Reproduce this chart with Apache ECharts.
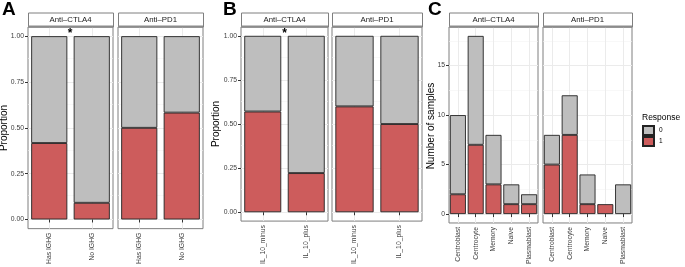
<!DOCTYPE html>
<html>
<head>
<meta charset="utf-8">
<script src="https://cdn.jsdelivr.net/npm/echarts@6/dist/echarts.min.js"></script>
<style>
  html, body { margin: 0; padding: 0; background: #fff; }
  #chart { width: 685px; height: 267px; }
</style>
</head>
<body>
<div id="chart"></div>
<script>
// panel A: IGHG status
const igCats = ['Has IGHG', 'No IGHG'];
const igCtla4Resp = [0.417, 0.091];
const igCtla4Non = [0.583, 0.909];
const igPd1Resp = [0.5, 0.583];
const igPd1Non = [0.5, 0.417];

// panel B: IL-10 status
const il10Cats = ['IL_10_minus', 'IL_10_plus'];
const il10Ctla4Resp = [0.571, 0.222];
const il10Ctla4Non = [0.429, 0.778];
const il10Pd1Resp = [0.6, 0.5];
const il10Pd1Non = [0.4, 0.5];

// panel C: cell type counts
const cellCats = ['Centroblast', 'Centrocyte', 'Memory', 'Naive', 'Plasmablast'];
const cellCtla4Resp = [2, 7, 3, 1, 1];
const cellCtla4Non = [8, 11, 5, 2, 1];
const cellPd1Resp = [5, 8, 1, 1, 0];
const cellPd1Non = [3, 4, 3, 0, 3];

const propTicks = [0, 0.25, 0.5, 0.75, 1];
const propMinor = [0.125, 0.375, 0.625, 0.875];
const countTicks = [0, 5, 10, 15];
const countMinor = [2.5, 7.5, 12.5, 17.5];

const FONT = 'Liberation Sans, Arial, sans-serif';
const RED = '#cd5c5c';
const GREY = '#bebebe';

// facet panels (px boxes)
const panels = [
  { left: 28, width: 85, top: 27, height: 202, cats: igCats, resp: igCtla4Resp, non: igCtla4Non, strip: 'Anti\u2013CTLA4', kind: 'prop', bw: '85%', yLab: true },
  { left: 118, width: 85, top: 27, height: 202, cats: igCats, resp: igPd1Resp, non: igPd1Non, strip: 'Anti\u2013PD1', kind: 'prop', bw: '85%' },
  { left: 241, width: 87, top: 27, height: 195, cats: il10Cats, resp: il10Ctla4Resp, non: il10Ctla4Non, strip: 'Anti\u2013CTLA4', kind: 'prop', bw: '85%', yLab: true },
  { left: 332, width: 90, top: 27, height: 195, cats: il10Cats, resp: il10Pd1Resp, non: il10Pd1Non, strip: 'Anti\u2013PD1', kind: 'prop', bw: '85%' },
  { left: 449, width: 89, top: 27, height: 198, cats: cellCats, resp: cellCtla4Resp, non: cellCtla4Non, strip: 'Anti\u2013CTLA4', kind: 'count', bw: '90%', yLab: true },
  { left: 543, width: 89, top: 27, height: 198, cats: cellCats, resp: cellPd1Resp, non: cellPd1Non, strip: 'Anti\u2013PD1', kind: 'count', bw: '90%' }
];

const grid = [], xAxis = [], yAxis = [], series = [], graphic = [];

panels.forEach((p, i) => {
  const isProp = p.kind === 'prop';
  const ticks = isProp ? propTicks : countTicks;
  const minor = isProp ? propMinor : countMinor;

  grid.push({
    left: p.left, top: p.top, width: p.width, height: p.height,
    show: true, backgroundColor: '#fff', borderColor: '#7f7f7f', borderWidth: 1
  });
  xAxis.push({
    type: 'category', gridIndex: i, data: p.cats,
    axisLine: { show: false },
    axisTick: { show: true, length: 3, alignWithLabel: true, lineStyle: { color: '#333' } },
    axisLabel: { rotate: 90, interval: 0, fontSize: 6.8, color: '#3d3d3d', fontFamily: FONT, margin: 4 },
    splitLine: { show: false }
  });
  yAxis.push({
    type: 'value', gridIndex: i,
    min: isProp ? -0.05 : -0.9,
    max: isProp ? 1.05 : 18.9,
    splitLine: { show: false },
    axisLine: { show: false },
    axisTick: { show: !!p.yLab, length: 3, customValues: ticks, lineStyle: { color: '#333' } },
    axisLabel: {
      show: !!p.yLab, customValues: ticks, fontSize: 6.8, color: '#3d3d3d', fontFamily: FONT, margin: 4,
      formatter: v => isProp ? v.toFixed(2) : String(v)
    }
  });

  // background grid lines, kept under the bars
  const lines = [];
  minor.forEach(v => lines.push({ yAxis: v, lineStyle: { color: '#f3f3f3', width: 0.6, type: 'solid' } }));
  ticks.forEach(v => lines.push({ yAxis: v, lineStyle: { color: '#ebebeb', width: 1, type: 'solid' } }));
  p.cats.forEach(c => lines.push({ xAxis: c, lineStyle: { color: '#ebebeb', width: 1, type: 'solid' } }));
  series.push({
    type: 'line', xAxisIndex: i, yAxisIndex: i, data: [], z: 0, silent: true,
    markLine: { z: 0, silent: true, symbol: 'none', label: { show: false }, animation: false, data: lines }
  });

  const bar = (name, vals, color) => ({
    name, type: 'bar', stack: 's' + i, xAxisIndex: i, yAxisIndex: i,
    barWidth: p.bw, z: 6,
    data: vals.map(v => (v === 0 ? null : v)),
    itemStyle: { color, borderColor: '#222', borderWidth: 0.9 }
  });
  series.push(bar('1', p.resp, RED));
  series.push(bar('0', p.non, GREY));

  // facet strip
  graphic.push({
    type: 'rect', left: p.left, top: 12.5, z: 10,
    shape: { width: p.width, height: 14 },
    style: { fill: '#fff', stroke: '#7f7f7f', lineWidth: 1 }
  });
  graphic.push({
    type: 'rect', left: p.left, top: 25.5, z: 11,
    shape: { width: p.width, height: 2 },
    style: { fill: '#8c8c8c' }
  });
  graphic.push({
    type: 'text', x: p.left + p.width / 2, y: 19.5, z: 12,
    style: { text: p.strip, fontSize: 7.8, fill: '#1a1a1a', fontFamily: FONT, align: 'center', verticalAlign: 'middle' }
  });
});

// y axis titles
[['Proportion', 4.5, 128], ['Proportion', 216, 124], ['Number of samples', 431, 126]].forEach(([t, x, y]) => {
  graphic.push({
    type: 'text', x: x, y: y, rotation: Math.PI / 2, z: 12,
    style: { text: t, fontSize: 10, fill: '#000', fontFamily: FONT, align: 'center', verticalAlign: 'middle' }
  });
});

// panel letters
[['A', 2], ['B', 223], ['C', 428]].forEach(([t, x]) => {
  graphic.push({
    type: 'text', x: x, y: 0, z: 12,
    style: { text: t, fontSize: 19, fontWeight: 'bold', fill: '#000', fontFamily: FONT }
  });
});

// significance stars
[70, 284.5].forEach(x => {
  graphic.push({
    type: 'text', x: x, y: 34, z: 12,
    style: { text: '*', fontSize: 12, fontWeight: 'bold', fill: '#000', fontFamily: FONT, align: 'center', verticalAlign: 'middle' }
  });
});

// legend title
graphic.push({
  type: 'text', x: 642, y: 113, z: 12,
  style: { text: 'Response', fontSize: 8.5, fill: '#000', fontFamily: FONT }
});

const chart = echarts.init(document.getElementById('chart'), null, { renderer: 'canvas' });
chart.setOption({
  animation: false,
  backgroundColor: '#fff',
  grid, xAxis, yAxis, series, graphic,
  legend: {
    orient: 'vertical', left: 642, top: 125, padding: 0,
    data: ['0', '1'], itemWidth: 11, itemHeight: 9, itemGap: 0,
    icon: 'rect', selectedMode: false,
    textStyle: { fontSize: 6.5, color: '#000', fontFamily: FONT }
  }
});
</script>
</body>
</html>
